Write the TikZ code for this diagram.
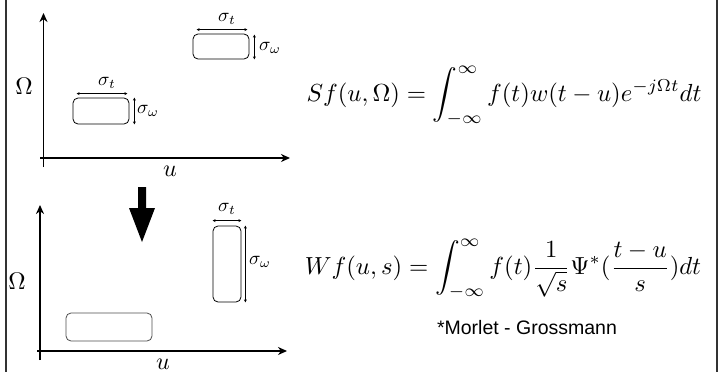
\documentclass[tikz,border=0pt]{standalone}
\usepackage{fontspec}
\newfontfamily\helv{Liberation Sans}
\usepackage{amsmath}
\usetikzlibrary{arrows.meta}
\begin{document}
\begin{tikzpicture}[x=1pt,y=-1pt,
  axis/.style={line width=1.6pt,-{Stealth[length=9pt,width=8pt]}},
  tfbox/.style={draw,line width=0.8pt,rounded corners=5pt,inner sep=0pt},
  dimarrow/.style={line width=0.6pt,{Stealth[length=3pt,width=3pt]}-{Stealth[length=3pt,width=3pt]}},
  siglabel/.style={inner sep=0pt},
  eqn/.style={inner sep=0pt},
  border/.style={line width=1.2pt,draw=black!80}]
\useasboundingbox (0,0) rectangle (720,372);
\draw[border] (6,0) -- (6,372);
\draw[border] (717,0) -- (717,372);
% top plot
\coordinate (o1y) at (43.5,167);
\coordinate (t1y) at (43.5,13);
\coordinate (o1x) at (40,158);
\coordinate (t1x) at (290,158);
\draw[axis] (o1y) -- (t1y);
\draw[axis] (o1x) -- (t1x);
\node[siglabel] (om1) at (24,86) {\scalebox{2.4}{$\Omega$}};
\node[siglabel] (u1) at (170,171) {\scalebox{2.4}{$u$}};
\node[tfbox,minimum width=56pt,minimum height=25pt] (b1) at (221,46.5) {};
\node[tfbox,minimum width=56pt,minimum height=26pt] (b2) at (101,111) {};
\draw[dimarrow] ([xshift=4pt,yshift=4pt]b1.north west) -- ([xshift=-2pt,yshift=4pt]b1.north east);
\draw[dimarrow] ([xshift=5pt,yshift=-1pt]b1.north east) -- ([xshift=5pt]b1.south east);
\node[siglabel] (st1) at (227,19) {\scalebox{1.9}{$\sigma_t$}};
\node[siglabel] (sw1) at (270,48) {\scalebox{1.9}{$\sigma_\omega$}};
\draw[dimarrow] ([xshift=4pt,yshift=4pt]b2.north west) -- ([xshift=-2pt,yshift=4pt]b2.north east);
\draw[dimarrow] ([xshift=5pt]b2.north east) -- ([xshift=5pt]b2.south east);
\node[siglabel] (st2) at (107,83) {\scalebox{1.9}{$\sigma_t$}};
\node[siglabel] (sw2) at (148,111) {\scalebox{1.9}{$\sigma_\omega$}};
% arrow
\fill (138,187) -- (146,187) -- (146,208) -- (155,208) -- (142,242) -- (129,208) -- (138,208) -- cycle;
% bottom plot
\coordinate (o2y) at (40,360);
\coordinate (t2y) at (40,205);
\coordinate (o2x) at (37,351);
\coordinate (t2x) at (287,351);
\draw[axis] (o2y) -- (t2y);
\draw[axis] (o2x) -- (t2x);
\node[siglabel] (om2) at (17,281) {\scalebox{2.4}{$\Omega$}};
\node[siglabel] (u2) at (163,364) {\scalebox{2.4}{$u$}};
\node[tfbox,minimum width=28pt,minimum height=76pt] (b3) at (227,264) {};
\node[tfbox,draw=black!70,minimum width=86pt,minimum height=28pt] (b4) at (109,327) {};
\draw[dimarrow] ([yshift=5pt]b3.north west) -- ([yshift=5pt]b3.north east);
\draw[dimarrow] ([xshift=4pt]b3.north east) -- ([xshift=4pt]b3.south east);
\node[siglabel] (st3) at (227,209) {\scalebox{1.9}{$\sigma_t$}};
\node[siglabel] (sw3) at (260,262) {\scalebox{1.9}{$\sigma_\omega$}};
% equations
\node[eqn] (eq1) at (504,96) {\scalebox{2.47}{$\displaystyle Sf(u,\Omega)=\int_{-\infty}^{\infty}f(t)w(t-u)e^{-j\Omega t}dt$}};
\node[eqn] (eq2) at (503,269) {\scalebox{2.47}{$\displaystyle Wf(u,s)=\int_{-\infty}^{\infty}f(t)\frac{1}{\sqrt{s}}\Psi^{*}(\frac{t-u}{s})dt$}};
\node[eqn,font=\helv\fontsize{19.5}{22}\selectfont] (mg) at (527,328) {*Morlet - Grossmann};
\end{tikzpicture}
\end{document}
